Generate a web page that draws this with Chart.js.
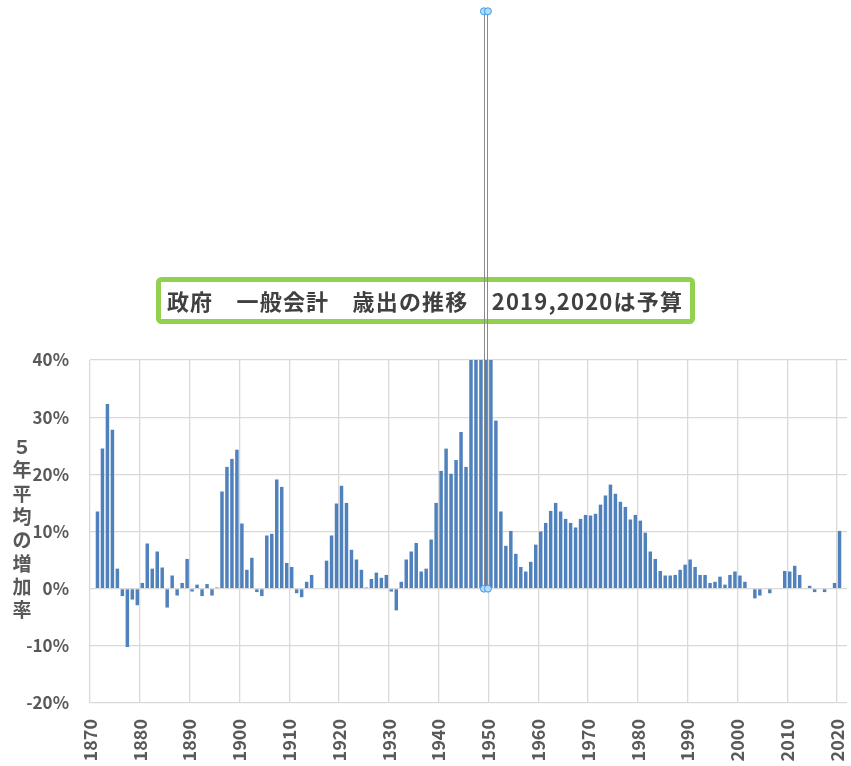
<!DOCTYPE html>
<html><head><meta charset="utf-8">
<script src="https://cdn.jsdelivr.net/npm/chart.js@4/dist/chart.umd.min.js"></script>
<style>html,body{margin:0;padding:0;background:#fff;}#wrap{width:851px;height:766px;position:relative;}</style>
</head><body><div id="wrap"><canvas id="c" width="851" height="766"></canvas></div>
<script>
// Categories: years 1870..2021
const firstYear = 1870, lastYear = 2021;
const years = [];
for (let y = firstYear; y <= lastYear; y++) years.push(String(y));

// 5-year average growth rate (%), by year 1870..2021
const growth = [
  null, 13.5, 24.5, 32.3, 27.8, 3.5, -1.3, -10.2, -1.9, -2.9,      // 1870s
  1.0, 7.9, 3.5, 6.5, 3.7, -3.3, 2.3, -1.2, 1.0, 5.2,              // 1880s
  -0.5, 0.7, -1.3, 0.8, -1.2, 0.2, 17.0, 21.3, 22.7, 24.3,         // 1890s
  11.4, 3.3, 5.4, -0.6, -1.3, 9.3, 9.6, 19.1, 17.8, 4.5,           // 1900s
  3.8, -0.8, -1.5, 1.2, 2.4, 0, 0, 4.9, 9.3, 14.9,                 // 1910s
  18.0, 15.0, 6.8, 5.1, 3.3, 0.2, 1.7, 2.8, 1.9, 2.4,              // 1920s
  -0.5, -3.8, 1.2, 5.1, 6.5, 8.0, 3.0, 3.5, 8.6, 15.0,             // 1930s
  20.6, 24.5, 20.1, 22.5, 27.4, 21.3, 60, 110, 140, 120,           // 1940s
  55, 29.4, 13.5, 7.5, 10.1, 6.1, 3.8, 3.0, 4.7, 7.7,              // 1950s
  10.0, 11.5, 13.6, 15.0, 13.5, 12.2, 11.5, 10.7, 12.2, 12.9,      // 1960s
  12.8, 13.1, 14.7, 16.3, 18.2, 16.6, 15.2, 14.3, 12.1, 12.9,      // 1970s
  11.9, 9.8, 6.5, 5.2, 3.1, 2.3, 2.3, 2.4, 3.3, 4.2,               // 1980s
  5.1, 3.8, 2.4, 2.4, 1.0, 1.2, 2.1, 0.7, 2.4, 3.0,                // 1990s
  2.3, 1.2, 0, -1.7, -1.2, 0, -0.8, 0, 0, 3.1,                     // 2000s
  3.0, 4.0, 2.4, 0, 0.5, -0.6, 0, -0.6, 0, 1.0,                    // 2010s
  10.1, null                                                        // 2020s
];

// Y tick range (%)
const yMin = -20, yMax = 40, yStep = 10;
const xTickStep = 10;

// Texts
const chartTitle = '政府　一般会計　歳出の推移　2019,2020は予算';
const yTitle = '５年平均の増加率';

// Selected vertical line shape (year, top value in %)
const markerYear = '1949';
const markerTop = 101;

const FONT = '"Noto Sans CJK JP", "Noto Sans", sans-serif';
const TXT = '#595959';
const GRID = '#d9d9d9';

const overlay = {
  id: 'overlay',
  afterDraw(chart) {
    const ctx = chart.ctx;
    const xs = chart.scales.x, ys = chart.scales.y;
    const area = chart.chartArea;
    ctx.save();
    // vertical axis title, stacked characters
    ctx.fillStyle = TXT;
    ctx.font = 'bold 19px ' + FONT;
    ctx.textAlign = 'center';
    ctx.textBaseline = 'middle';
    const chars = [...yTitle];
    const step = 23.3;
    const cy = (area.top + area.bottom) / 2 - 3;
    chars.forEach((ch, i) => {
      ctx.fillText(ch, 22, cy + (i - (chars.length - 1) / 2) * step);
    });
    // title box
    const bx = 158.5, by = 279.5, bw = 534, bh = 42;
    ctx.fillStyle = '#ffffff';
    ctx.strokeStyle = '#92d050';
    ctx.lineWidth = 5;
    ctx.beginPath();
    ctx.roundRect(bx, by, bw, bh, 3);
    ctx.fill();
    ctx.stroke();
    ctx.fillStyle = '#404040';
    ctx.font = 'bold 22px ' + FONT;
    ctx.textAlign = 'left';
    if ('letterSpacing' in ctx) ctx.letterSpacing = '1.2px';
    const tw = ctx.measureText(chartTitle).width;
    ctx.fillText(chartTitle, 425 - tw / 2, by + bh / 2 + 1);
    if ('letterSpacing' in ctx) ctx.letterSpacing = '0px';
    // selected line shape
    const mx = xs.getPixelForValue(years.indexOf(markerYear));
    const y0 = ys.getPixelForValue(0);
    const y1 = ys.getPixelForValue(markerTop);
    ctx.strokeStyle = '#8a8a8a';
    ctx.lineWidth = 1;
    [-1.5, 1.5].forEach(d => {
      ctx.beginPath();
      ctx.moveTo(Math.round(mx + d) + 0.5, y1);
      ctx.lineTo(Math.round(mx + d) + 0.5, y0);
      ctx.stroke();
    });
    [y1, y0].forEach(yy => {
      [-2, 2].forEach(d => {
        ctx.beginPath();
        ctx.arc(mx + d, yy, 3.5, 0, Math.PI * 2);
        ctx.fillStyle = '#b3dbfa';
        ctx.fill();
        ctx.strokeStyle = '#3d9be9';
        ctx.lineWidth = 1;
        ctx.stroke();
      });
    });
    ctx.restore();
  }
};

new Chart(document.getElementById('c'), {
  type: 'bar',
  data: {
    labels: years,
    datasets: [{
      data: growth,
      backgroundColor: '#4f81bd',
      borderWidth: 0,
      barPercentage: 0.7,
      categoryPercentage: 1.0
    }]
  },
  options: {
    responsive: false,
    animation: false,
    devicePixelRatio: 1,
    layout: { padding: { left: 0, right: 4, top: 360, bottom: 0 } },
    plugins: { legend: { display: false }, tooltip: { enabled: false }, title: { display: false } },
    scales: {
      x: { type: 'category', display: false, offset: true, grid: { display: false } },
      x2: {
        type: 'linear', position: 'bottom', min: firstYear, max: lastYear + 1,
        offset: false,
        border: { display: false },
        grid: { color: GRID, lineWidth: 1.3, drawTicks: false, offset: false },
        ticks: {
          stepSize: xTickStep, includeBounds: false, autoSkip: false,
          minRotation: 90, maxRotation: 90, padding: 16,
          color: TXT, font: { family: FONT, size: 18, weight: 'bold' },
          callback: v => String(v)
        },
        afterFit: s => { s.height = 63; s.paddingLeft = 0; s.paddingRight = 0; }
      },
      y: {
        min: yMin, max: yMax,
        border: { display: false },
        grid: { color: GRID, lineWidth: 1.3, drawTicks: false },
        ticks: {
          stepSize: yStep, padding: 21,
          color: TXT, font: { family: FONT, size: 17, weight: 'bold' },
          callback: v => v + '%'
        },
        afterFit: s => { s.width = 90; }
      }
    }
  },
  plugins: [overlay]
});
</script>
</body></html>
